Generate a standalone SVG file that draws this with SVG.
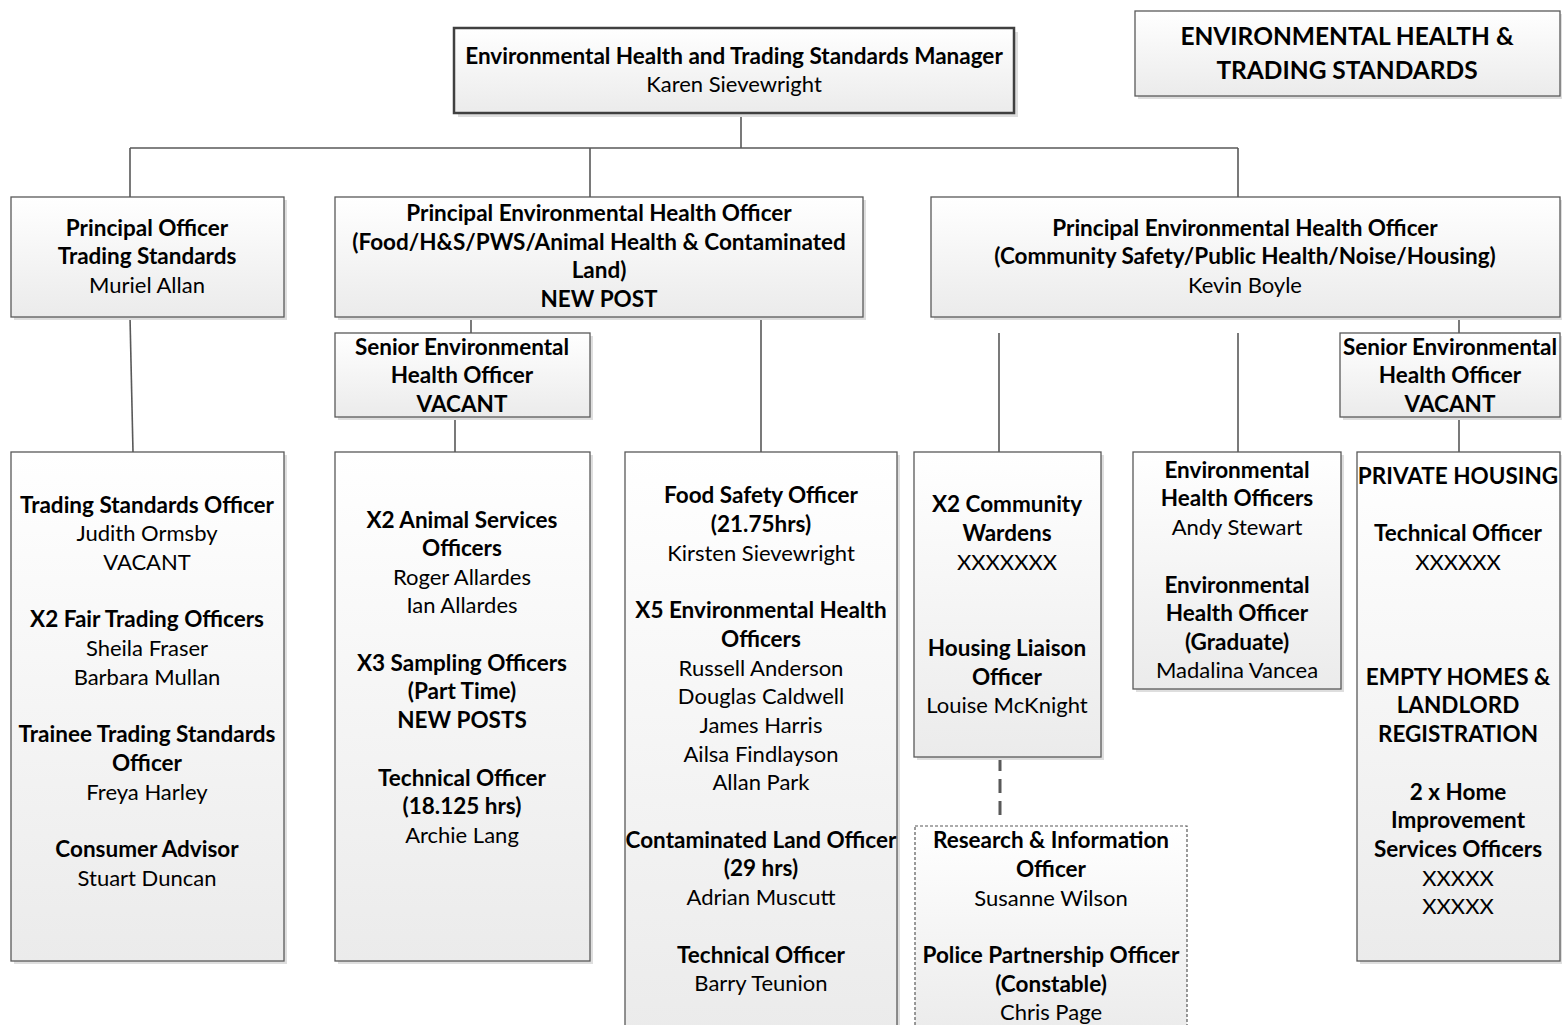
<svg xmlns="http://www.w3.org/2000/svg" width="1562" height="1025" viewBox="0 0 1562 1025">
<defs>
<linearGradient id="g" x1="0" y1="0" x2="0" y2="1">
<stop offset="0" stop-color="#ffffff"/>
<stop offset="1" stop-color="#ebebeb"/>
</linearGradient>
<style>
.box{fill:url(#g);stroke:#595959;stroke-width:1.3}
.sh{fill:#dedede}
.thick{stroke-width:2.5;stroke:#404040}
.dot{stroke-dasharray:3 2;stroke-width:1.2}
.c{stroke:#595959;stroke-width:1.6;fill:none}
.dash{stroke:#595959;stroke-width:3;stroke-dasharray:14 8;fill:none}
text{font-family:Lato,"Open Sans","Liberation Sans",sans-serif;font-size:22px;text-anchor:middle;fill:#000}
.b{font-weight:bold;font-size:22.5px}
.t{font-size:24.5px;font-weight:bold}
</style>
</defs>
<rect width="1562" height="1025" fill="#fff"/>
<g id="connectors">
<path class="c" d="M741 113V148M130 148H1238M130 148V197M590 148V197M1238 148V197"/>
<path class="c" d="M130 317L133 452"/>
<path class="c" d="M471 317V333M455 417V452M761 317V452"/>
<path class="c" d="M999 333V452M1238 333V452M1459 317V333M1459 417V452"/>
<path class="dash" d="M1000 757V822"/>
</g>
<g id="manager">
<rect class="sh" x="458" y="32" width="560" height="85"/>
<rect class="box thick" x="454" y="28" width="560" height="85"/>
<text class="b" x="734" y="64">Environmental Health and Trading Standards Manager</text>
<text x="734" y="92">Karen Sievewright</text>
</g>
<g id="title">
<rect class="sh" x="1138" y="14" width="425" height="85"/>
<rect class="box" x="1135" y="11" width="425" height="85"/>
<text class="t" x="1347" y="45">ENVIRONMENTAL HEALTH &amp;</text>
<text class="t" x="1347" y="79">TRADING STANDARDS</text>
</g>
<g id="po-ts">
<rect class="sh" x="14" y="200" width="273" height="120"/>
<rect class="box" x="11" y="197" width="273" height="120"/>
<text class="b" x="147" y="236">Principal Officer</text>
<text class="b" x="147" y="264">Trading Standards</text>
<text x="147" y="293">Muriel Allan</text>
</g>
<g id="peho-food">
<rect class="sh" x="338" y="200" width="528" height="120"/>
<rect class="box" x="335" y="197" width="528" height="120"/>
<text class="b" x="599" y="221">Principal Environmental Health Officer</text>
<text class="b" x="599" y="250">(Food/H&amp;S/PWS/Animal Health &amp; Contaminated</text>
<text class="b" x="599" y="278">Land)</text>
<text class="b" x="599" y="307">NEW POST</text>
</g>
<g id="peho-community">
<rect class="sh" x="934" y="200" width="629" height="120"/>
<rect class="box" x="931" y="197" width="629" height="120"/>
<text class="b" x="1245" y="236">Principal Environmental Health Officer</text>
<text class="b" x="1245" y="264">(Community Safety/Public Health/Noise/Housing)</text>
<text x="1245" y="293">Kevin Boyle</text>
</g>
<g id="seho-1">
<rect class="sh" x="338" y="336" width="255" height="84"/>
<rect class="box" x="335" y="333" width="255" height="84"/>
<text class="b" x="462" y="355">Senior Environmental</text>
<text class="b" x="462" y="383">Health Officer</text>
<text class="b" x="462" y="412">VACANT</text>
</g>
<g id="seho-2">
<rect class="sh" x="1343" y="336" width="220" height="84"/>
<rect class="box" x="1340" y="333" width="220" height="84"/>
<text class="b" x="1450" y="355">Senior Environmental</text>
<text class="b" x="1450" y="383">Health Officer</text>
<text class="b" x="1450" y="412">VACANT</text>
</g>
<g id="ts-team">
<rect class="sh" x="14" y="455" width="273" height="509"/>
<rect class="box" x="11" y="452" width="273" height="509"/>
<text class="b" x="147" y="513">Trading Standards Officer</text>
<text x="147" y="541">Judith Ormsby</text>
<text x="147" y="570">VACANT</text>
<text class="b" x="147" y="627">X2 Fair Trading Officers</text>
<text x="147" y="656">Sheila Fraser</text>
<text x="147" y="685">Barbara Mullan</text>
<text class="b" x="147" y="742">Trainee Trading Standards</text>
<text class="b" x="147" y="771">Officer</text>
<text x="147" y="800">Freya Harley</text>
<text class="b" x="147" y="857">Consumer Advisor</text>
<text x="147" y="886">Stuart Duncan</text>
</g>
<g id="animal-team">
<rect class="sh" x="338" y="455" width="255" height="509"/>
<rect class="box" x="335" y="452" width="255" height="509"/>
<text class="b" x="462" y="528">X2 Animal Services</text>
<text class="b" x="462" y="556">Officers</text>
<text x="462" y="585">Roger Allardes</text>
<text x="462" y="613">Ian Allardes</text>
<text class="b" x="462" y="671">X3 Sampling Officers</text>
<text class="b" x="462" y="699">(Part Time)</text>
<text class="b" x="462" y="728">NEW POSTS</text>
<text class="b" x="462" y="786">Technical Officer</text>
<text class="b" x="462" y="814">(18.125 hrs)</text>
<text x="462" y="843">Archie Lang</text>
</g>
<g id="food-team">
<rect class="sh" x="628" y="455" width="272" height="580"/>
<rect class="box" x="625" y="452" width="272" height="580"/>
<text class="b" x="761" y="503">Food Safety Officer</text>
<text class="b" x="761" y="532">(21.75hrs)</text>
<text x="761" y="561">Kirsten Sievewright</text>
<text class="b" x="761" y="618">X5 Environmental Health</text>
<text class="b" x="761" y="647">Officers</text>
<text x="761" y="676">Russell Anderson</text>
<text x="761" y="704">Douglas Caldwell</text>
<text x="761" y="733">James Harris</text>
<text x="761" y="762">Ailsa Findlayson</text>
<text x="761" y="790">Allan Park</text>
<text class="b" x="761" y="848">Contaminated Land Officer</text>
<text class="b" x="761" y="876">(29 hrs)</text>
<text x="761" y="905">Adrian Muscutt</text>
<text class="b" x="761" y="963">Technical Officer</text>
<text x="761" y="991">Barry Teunion</text>
</g>
<g id="wardens">
<rect class="sh" x="917" y="455" width="187" height="305"/>
<rect class="box" x="914" y="452" width="187" height="305"/>
<text class="b" x="1007" y="512">X2 Community</text>
<text class="b" x="1007" y="541">Wardens</text>
<text x="1007" y="570">XXXXXXX</text>
<text class="b" x="1007" y="656">Housing Liaison</text>
<text class="b" x="1007" y="685">Officer</text>
<text x="1007" y="713">Louise McKnight</text>
</g>
<g id="research">
<rect class="box dot" x="915" y="826" width="272" height="210"/>
<text class="b" x="1051" y="848">Research &amp; Information</text>
<text class="b" x="1051" y="877">Officer</text>
<text x="1051" y="906">Susanne Wilson</text>
<text class="b" x="1051" y="963">Police Partnership Officer</text>
<text class="b" x="1051" y="992">(Constable)</text>
<text x="1051" y="1020">Chris Page</text>
</g>
<g id="eho-team">
<rect class="sh" x="1136" y="455" width="208" height="237"/>
<rect class="box" x="1133" y="452" width="208" height="237"/>
<text class="b" x="1237" y="478">Environmental</text>
<text class="b" x="1237" y="506">Health Officers</text>
<text x="1237" y="535">Andy Stewart</text>
<text class="b" x="1237" y="593">Environmental</text>
<text class="b" x="1237" y="621">Health Officer</text>
<text class="b" x="1237" y="650">(Graduate)</text>
<text x="1237" y="678">Madalina Vancea</text>
</g>
<g id="housing-team">
<rect class="sh" x="1360" y="455" width="203" height="509"/>
<rect class="box" x="1357" y="452" width="203" height="509"/>
<text class="b" x="1458" y="484">PRIVATE HOUSING</text>
<text class="b" x="1458" y="541">Technical Officer</text>
<text x="1458" y="570">XXXXXX</text>
<text class="b" x="1458" y="685">EMPTY HOMES &amp;</text>
<text class="b" x="1458" y="713">LANDLORD</text>
<text class="b" x="1458" y="742">REGISTRATION</text>
<text class="b" x="1458" y="800">2 x Home</text>
<text class="b" x="1458" y="828">Improvement</text>
<text class="b" x="1458" y="857">Services Officers</text>
<text x="1458" y="886">XXXXX</text>
<text x="1458" y="914">XXXXX</text>
</g>
</svg>
